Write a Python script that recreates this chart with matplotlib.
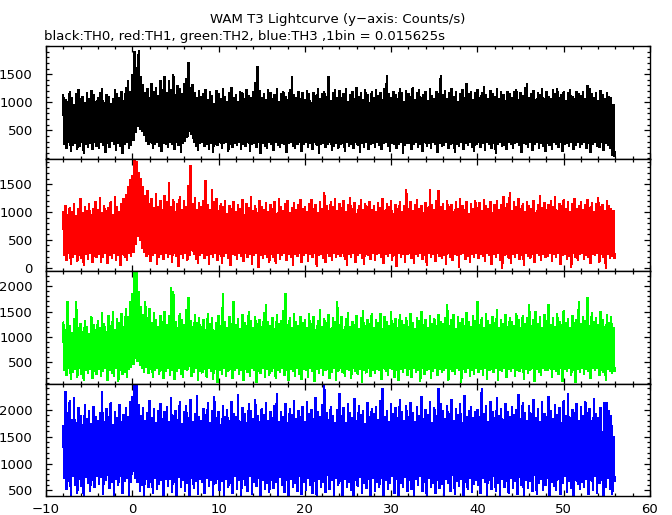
import numpy as np
import matplotlib
matplotlib.use("Agg")
import matplotlib.pyplot as plt
from matplotlib.ticker import MultipleLocator

# ---- data: per 0.25 s sample, upper (hi) and lower (lo) extent of the curve ----
t_start = -8.0
t_step = 0.25

th0_hi = [
    1120, 1040, 1010, 1190, 1080, 960, 1150, 1230, 1070, 1100, 990, 1170, 1060, 1210, 1130, 1020,
    1090, 1180, 1250, 1000, 1140, 1110, 970, 1060, 1220, 1150, 1080, 1190, 1030, 1270, 1380, 1200,
    1490, 1900, 1620, 1930, 1460, 1310, 1180, 1250, 1090, 1340, 1200, 1270, 1120, 1380, 1230, 1450,
    1170, 1390, 1220, 1500, 1130, 1290, 1250, 1160, 1340, 1420, 1700, 1260, 1320, 1180, 1080, 1210,
    1100, 1160, 1230, 1040, 1190, 1120, 980, 1210, 1150, 1070, 1240, 1110, 1020, 1180, 1260, 1090,
    1140, 1010, 1200, 1170, 1060, 1230, 1120, 1090, 1190, 1350, 1630, 1210, 1080, 1150, 1040, 1220,
    1180, 1070, 1130, 1250, 1010, 1160, 1200, 1110, 1040, 1230, 1450, 1140, 1090, 1190, 1060, 1170,
    1050, 1210, 1150, 990, 1180, 1120, 1240, 1070, 1160, 1200, 1100, 1450, 1030, 1170, 1230, 1090,
    1210, 1080, 1160, 1240, 1020, 1130, 1190, 1060, 1270, 1110, 1180, 1050, 1220, 1140, 1000, 1190,
    1090, 1230, 1120, 1170, 1040, 1250, 1485, 1150, 1080, 1200, 1130, 1060, 1240, 1170, 1010, 1210,
    1160, 1100, 1260, 1050, 1180, 1220, 1090, 1140, 1200, 1030, 1250, 1120, 1070, 1190, 1150, 1485,
    1130, 1210, 1060, 1170, 1240, 1100, 1190, 1020, 1150, 1230, 1080, 1340, 1160, 1200, 1050, 1180,
    1220, 1090, 1170, 1280, 1130, 1060, 1210, 1150, 1100, 1240, 1070, 1190, 1140, 1030, 1200, 1160,
    1080, 1190, 1230, 1050, 1170, 1120, 1260, 1340, 1090, 1150, 1210, 1040, 1180, 1130, 1240, 1070,
    1190, 1110, 1060, 1220, 1160, 1250, 1080, 1140, 1200, 1030, 1170, 1230, 1100, 1060, 1190, 1150,
    1120, 1200, 1070, 1290, 1240, 1150, 1090, 1180, 1030, 1210, 1130, 1060, 1170, 1100, 1080, 960,
]
th0_lo = [
    250, 180, 290, 120, 230, 270, 160, 210, 280, 90, 240, 200, 260, 150, 290, 220,
    170, 280, 230, 110, 260, 190, 300, 240, 140, 270, 210, 80, 250, 290, 180, 230,
    310, 460, 560, 520, 480, 400, 300, 240, 280, 170, 250, 290, 220, 130, 270, 240,
    200, 290, 250, 160, 280, 230, 110, 270, 300, 370, 480, 430, 290, 220, 140, 260,
    290, 210, 240, 150, 270, 100, 250, 230, 290, 180, 260, 280, 120, 240, 200, 270,
    230, 290, 160, 250, 210, 280, 130, 240, 270, 200, 290, 90, 260, 220, 170, 280,
    250, 140, 280, 230, 190, 270, 240, 110, 260, 290, 210, 170, 250, 280, 130, 240,
    280, 200, 260, 160, 290, 230, 80, 250, 270, 190, 240, 290, 140, 220, 260, 180,
    240, 270, 120, 290, 210, 250, 180, 280, 230, 100, 260, 200, 290, 160, 240, 270,
    190, 280, 230, 150, 260, 290, 210, 120, 270, 240, 180, 250, 290, 90, 230, 260,
    270, 160, 250, 290, 200, 240, 130, 280, 220, 260, 170, 290, 240, 110, 270, 210,
    230, 290, 180, 250, 270, 100, 240, 210, 290, 150, 260, 230, 280, 190, 120, 250,
    290, 200, 260, 140, 280, 240, 170, 270, 90, 250, 290, 210, 230, 160, 280, 240,
    180, 260, 290, 230, 110, 270, 250, 200, 290, 140, 240, 280, 170, 260, 220, 130,
    260, 230, 150, 280, 250, 190, 290, 120, 240, 270, 210, 290, 160, 230, 280, 200,
    240, 290, 170, 260, 100, 250, 280, 220, 190, 290, 140, 260, 230, 180, 60, 40,
]

th1_hi = [
    1000, 1120, 950, 1080, 1010, 1150, 930, 1060, 1240, 990, 1100, 1030, 1160, 960, 1070, 1190,
    1050, 1260, 990, 1120, 1030, 1080, 1190, 950, 1270, 1100, 1010, 1150, 1240, 1320, 1450, 1580,
    1650, 1950, 1900, 1700, 1600, 1450, 1300, 1380, 1150, 1250, 1080, 1330, 1100, 1200, 1050, 1300,
    1180, 1520, 1090, 1230, 1000, 1160, 1270, 1050, 1200, 1100, 1480, 1830, 1150, 1260, 1040, 1170,
    1090, 1200, 1560, 1130, 1040, 1400, 1180, 1250, 1020, 1150, 1090, 1210, 980, 1120, 1060, 1190,
    1000, 1140, 1070, 1230, 950, 1160, 1080, 1280, 1030, 1120, 990, 1200, 1090, 1050, 1170, 1010,
    1140, 1060, 1190, 980, 1250, 1100, 1030, 1150, 1210, 990, 1080, 1170, 1040, 1130, 1230, 1070,
    1100, 1010, 1160, 1220, 1070, 1140, 990, 1190, 1060, 1350, 1120, 1030, 1180, 1090, 1240, 1020,
    1150, 1080, 1200, 1010, 1130, 1260, 1060, 1170, 970, 1110, 1220, 1040, 1160, 1090, 1190, 1050,
    1120, 1000, 1170, 1080, 1240, 1030, 1150, 1090, 1200, 980, 1130, 1060, 1180, 1010, 1110, 1400,
    1070, 1190, 1020, 1140, 1230, 1060, 1110, 990, 1170, 1080, 1400, 1130, 1050, 1200, 1380, 1090,
    1160, 1030, 1210, 1090, 1140, 1000, 1180, 1070, 1250, 1120, 1040, 1190, 980, 1150, 1060, 1200,
    1080, 1170, 1020, 1230, 1110, 1060, 1190, 990, 1140, 1210, 1050, 1130, 1270, 1080, 1160, 1350,
    1030, 1190, 1100, 1240, 1070, 1150, 1010, 1180, 1120, 1060, 1210, 990, 1130, 1290, 1080, 1170,
    1050, 1140, 1200, 1090, 1280, 1020, 1160, 1110, 1230, 1070, 1180, 1000, 1150, 1250, 1060, 1120,
    1190, 1040, 1130, 1220, 1080, 1170, 1010, 1150, 1260, 1090, 1140, 1030, 1200, 1110, 1070, 1020,
]
th1_lo = [
    210, 130, 250, 60, 190, 240, 110, 220, 170, 40, 230, 150, 260, 90, 200, 180,
    240, 100, 190, 250, 70, 220, 160, 260, 130, 210, 30, 240, 180, 120, 250, 200,
    280, 420, 560, 480, 340, 270, 200, 240, 110, 220, 250, 60, 190, 230, 140, 260,
    180, 240, 90, 250, 200, 20, 230, 170, 260, 120, 210, 300, 240, 150, 80, 220,
    250, 160, 220, 50, 240, 190, 260, 130, 230, 80, 200, 250, 170, 30, 240, 210,
    140, 250, 200, 110, 260, 180, 230, 60, 210, 250, 10, 220, 160, 240, 190, 90,
    230, 190, 70, 250, 150, 220, 260, 120, 240, 180, 40, 230, 200, 250, 100, 210,
    260, 110, 230, 190, 250, 20, 210, 240, 160, 90, 250, 200, 130, 260, 180, 230,
    200, 250, 140, 30, 230, 190, 260, 100, 220, 250, 170, 60, 240, 210, 150, 260,
    120, 230, 250, 180, 70, 240, 200, 260, 130, 210, 20, 250, 190, 230, 100, 240,
    250, 170, 80, 230, 200, 260, 140, 220, 40, 250, 190, 230, 110, 260, 200, 160,
    220, 60, 250, 190, 130, 240, 210, 0, 230, 260, 150, 200, 90, 240, 180, 250,
    160, 240, 200, 110, 260, 220, 50, 230, 190, 250, 130, -20, 210, 240, 170, 80,
    240, 190, 250, 140, 220, 30, 260, 200, 160, 230, 90, 250, 210, 120, 240, 190,
    200, 250, 110, 230, 180, 260, 60, 220, 240, 150, 200, 10, 250, 190, 130, 230,
    250, 140, 220, 190, 70, 240, 210, 260, 100, 230, 180, -10, 240, 160, 200, 180,
]

th2_hi = [
    1280, 1150, 1700, 1230, 1090, 1360, 1690, 1180, 1270, 1110, 1330, 1210, 1060, 1400, 1250, 1140,
    1320, 1190, 1480, 1260, 1100, 1420, 1230, 1510, 1150, 1370, 1280, 1470, 1200, 1550, 1400, 1700,
    1850, 2290, 2290, 1900, 1600, 1450, 1700, 1380, 1560, 1290, 1480, 1350, 1200, 1430, 1310, 1500,
    1250, 1420, 1970, 1900, 1300, 1180, 1460, 1350, 1240, 1530, 1770, 1320, 1210, 1450, 1280, 1390,
    1200, 1340, 1150, 1470, 1260, 1380, 1130, 1290, 1420, 1230, 1850, 1310, 1180, 1400, 1260, 1700,
    1240, 1360, 1170, 1450, 1290, 1220, 1500, 1330, 1190, 1410, 1270, 1340, 1210, 1480, 1640, 1300,
    1230, 1380, 1160, 1440, 1270, 1330, 1520, 1850, 1250, 1390, 1180, 1460, 1300, 1220, 1410, 1280,
    1350, 1190, 1470, 1260, 1400, 1140, 1320, 1530, 1210, 1370, 1280, 1440, 1170, 1390, 1300, 1700,
    1240, 1410, 1150, 1360, 1480, 1200, 1310, 1250, 1430, 1170, 1380, 1520, 1220, 1340, 1270, 1460,
    1190, 1350, 1280, 1470, 1160, 1400, 1300, 1230, 1510, 1260, 1370, 1180, 1440, 1320, 1250, 1390,
    1210, 1460, 1290, 1170, 1380, 1330, 1500, 1240, 1350, 1190, 1420, 1270, 1360, 1230, 1450, 1300,
    1260, 1380, 1640, 1220, 1340, 1450, 1170, 1400, 1290, 1360, 1230, 1480, 1310, 1200, 1420, 1330,
    1700, 1250, 1390, 1180, 1460, 1320, 1240, 1410, 1280, 1530, 1190, 1350, 1270, 1440, 1210, 1380,
    1300, 1230, 1470, 1350, 1180, 1420, 1260, 1390, 1640, 1220, 1340, 1500, 1270, 1400, 1190, 1450,
    1330, 1640, 1250, 1380, 1200, 1460, 1310, 1240, 1520, 1290, 1370, 1180, 1430, 1280, 1350, 1700,
    1260, 1410, 1330, 1770, 1220, 1480, 1300, 1380, 1250, 1500, 1350, 1200, 1440, 1290, 1400, 1180,
]
th2_lo = [
    330, 240, 380, 170, 300, 350, 210, 370, 260, 140, 340, 290, 360, 190, 320, 270,
    360, 220, 310, 380, 150, 340, 280, 230, 370, 120, 330, 260, 300, 200, 350, 390,
    460, 580, 520, 440, 370, 300, 400, 280, 350, 210, 330, 380, 260, 340, 180, 310,
    370, 250, 340, 160, 310, 380, 270, 200, 360, 330, 420, 230, 300, 370, 140, 320,
    290, 360, 210, 380, 320, 170, 350, 100, 330, 270, 380, 230, 310, 360, 190, 340,
    380, 260, 330, 150, 360, 300, 220, 370, 340, 110, 310, 280, 370, 200, 350, 240,
    320, 370, 180, 340, 290, 380, 250, 330, 140, 360, 310, 230, 380, 270, 170, 350,
    340, 200, 370, 310, 120, 350, 280, 380, 240, 330, 360, 190, 300, 370, 150, 320,
    370, 290, 230, 360, 330, 180, 380, 310, 260, 350, 100, 340, 290, 370, 220, 330,
    280, 360, 330, 160, 370, 310, 240, 380, 350, 200, 330, 140, 360, 300, 380, 250,
    350, 210, 370, 300, 340, 130, 380, 270, 330, 360, 180, 310, 370, 240, 350, 290,
    330, 380, 150, 350, 310, 260, 370, 340, 110, 360, 300, 380, 220, 340, 270, 370,
    300, 350, 240, 380, 170, 330, 360, 290, 370, 140, 340, 310, 380, 200, 350, 320,
    370, 230, 340, 310, 380, 160, 350, 280, 330, 370, 120, 360, 300, 250, 380, 330,
    340, 380, 200, 360, 320, 270, 370, 130, 350, 310, 380, 240, 330, 100, 360, 300,
    380, 260, 350, 310, 190, 370, 330, 380, 240, 340, 300, 150, 360, 320, 280, 330,
]

th3_hi = [
    1700, 2340, 1950, 2180, 1820, 2230, 1760, 2050, 1900, 1720, 2100, 1840, 1980, 1750, 2060, 1870,
    1800, 1950, 2340, 1780, 2020, 1880, 2140, 1730, 1960, 1850, 2100, 1790, 1920, 2050, 1870, 2160,
    2250, 2470, 2480, 2100, 1900, 2040, 1800, 1950, 2180, 1850, 2020, 1760, 1990, 2110, 1830, 1960,
    2060, 1780, 2230, 1900, 1990, 1820, 2150, 1740, 1970, 2080, 1860, 2190, 1790, 1940, 2270, 1880,
    1800, 2020, 1910, 2130, 1760, 1990, 2240, 1850, 1960, 1730, 2090, 1880, 2000, 1810, 2150, 1930,
    1870, 2280, 1790, 2050, 1940, 1760, 2110, 1990, 1840, 2200, 1900, 1780, 2030, 1920, 2140, 1810,
    1960, 1850, 2080, 2300, 1790, 1970, 1880, 2120, 1760, 2020, 1910, 2180, 1830, 1990, 1870, 2060,
    1790, 2150, 1930, 2010, 1840, 2230, 1960, 1880, 2100, 2460, 1950, 1820, 2070, 1900, 1760, 2000,
    2300, 1890, 2040, 1770, 2120, 1950, 1860, 2220, 1800, 2080, 1920, 1990, 1750, 2140, 1870, 2030,
    1940, 2060, 1820, 2170, 2400, 1880, 1990, 1780, 2110, 1930, 2050, 1850, 2200, 1960, 1800, 2080,
    1870, 2130, 1950, 1790, 2060, 1900, 2240, 1840, 2010, 1920, 2160, 1770, 2050, 1890, 2400, 2120,
    1990, 1830, 2090, 1940, 2200, 1800, 2030, 1910, 2120, 1760, 2260, 1880, 1990, 2070, 1850, 1960,
    2010, 1880, 2400, 1940, 2080, 1790, 2150, 1960, 1850, 2230, 1900, 2030, 1820, 2110, 1970, 1870,
    2060, 1910, 2000, 2290, 1840, 2140, 1950, 1800, 2090, 1930, 2200, 1860, 2020, 1780, 2150, 1940,
    1880, 2240, 1990, 1830, 2100, 1920, 2040, 1770, 2180, 1900, 2300, 1850, 2010, 1950, 2120, 1800,
    2070, 1890, 2160, 1950, 2020, 1800, 2210, 1930, 1860, 2040, 1600, 2140, 2130, 1980, 1900, 1500,
]
th3_lo = [
    720, 520, 660, 390, 760, 600, 450, 700, 580, 380, 740, 630, 480, 690, 560, 750,
    610, 740, 420, 680, 780, 530, 640, 370, 710, 590, 760, 450, 670, 730, 390, 650,
    860, 720, 640, 480, 600, 400, 700, 560, 650, 440, 730, 520, 610, 690, 380, 710,
    580, 700, 460, 650, 380, 740, 550, 690, 470, 620, 370, 720, 530, 660, 430, 700,
    640, 450, 730, 580, 690, 390, 620, 710, 500, 670, 360, 700, 560, 630, 440, 750,
    520, 680, 400, 710, 600, 480, 760, 430, 650, 570, 720, 380, 690, 510, 620, 460,
    690, 540, 640, 390, 740, 590, 460, 680, 370, 710, 560, 630, 480, 760, 420, 650,
    500, 720, 590, 440, 670, 380, 700, 550, 640, 460, 770, 520, 680, 390, 720, 600,
    660, 410, 710, 560, 640, 490, 370, 690, 580, 740, 450, 620, 530, 700, 400, 730,
    470, 650, 560, 720, 380, 680, 510, 620, 760, 440, 700, 370, 630, 550, 740, 480,
    680, 520, 400, 710, 590, 760, 470, 650, 380, 720, 560, 630, 450, 690, 530, 610,
    390, 700, 620, 480, 770, 430, 660, 570, 700, 360, 640, 520, 730, 460, 610, 680,
    590, 440, 720, 640, 400, 690, 520, 760, 470, 630, 380, 700, 560, 670, 450, 730,
    530, 670, 430, 740, 600, 370, 690, 540, 660, 470, 770, 420, 630, 710, 500, 590,
    720, 390, 650, 580, 490, 700, 420, 630, 750, 460, 670, 540, 370, 690, 610, 510,
    640, 560, 710, 420, 680, 500, 760, 450, 620, 690, 380, 560, 720, 520, 430, 680,
]

series = [
    ("TH0", th0_hi, th0_lo, "#000000", (-2, 2002), [500, 1000, 1500]),
    ("TH1", th1_hi, th1_lo, "#ff0000", (-60, 1960), [0, 500, 1000, 1500]),
    ("TH2", th2_hi, th2_lo, "#00ff00", (83, 2298), [500, 1000, 1500, 2000]),
    ("TH3", th3_hi, th3_lo, "#0000ff", (395, 2491), [500, 1000, 1500, 2000]),
]

title = "WAM T3 Lightcurve (y\u2212axis: Counts/s)"
subtitle = "black:TH0, red:TH1, green:TH2, blue:TH3 ,1bin = 0.015625s"

plt.rcParams["font.family"] = ["DejaVu Sans"]
fig = plt.figure(figsize=(6.72, 5.15), dpi=100)
W, H = 672, 515
left, right, top, bottom = 46 / W, 650 / W, 1 - 46 / H, 1 - 496 / H
axes = fig.subplots(4, 1, sharex=True)
fig.subplots_adjust(left=left, right=right, top=top, bottom=bottom, hspace=0)

for ax, (name, hi, lo, col, ylim, yt) in zip(axes, series):
    hi = np.asarray(hi, float)
    lo = np.asarray(lo, float)
    n = len(hi)
    # interleave: peak at each sample time, trough half a step later
    y = np.empty(2 * n)
    y[0::2] = hi
    y[1::2] = lo
    x = t_start + (t_step / 2) * np.arange(2 * n)
    ax.plot(x, y, color=col, linewidth=1.0, antialiased=False, solid_joinstyle="miter")
    ax.set_xlim(-10, 60)
    ax.set_ylim(*ylim)
    ax.set_yticks(yt)
    ax.yaxis.set_minor_locator(MultipleLocator(100))
    ax.xaxis.set_major_locator(MultipleLocator(10))
    ax.xaxis.set_minor_locator(MultipleLocator(2))
    ax.tick_params(which="both", direction="in", top=True, right=True, width=0.9, labelsize=9.5)
    ax.tick_params(which="major", length=4)
    ax.tick_params(which="minor", length=2)
    ax.tick_params(axis="y", pad=9.5)
    ax.tick_params(axis="x", pad=5)
    for s in ax.spines.values():
        s.set_linewidth(1.0)

fig.text(0.502, 1 - 20 / H, title, ha="center", va="center", fontsize=9.5)
fig.text(44 / W, 1 - 36.5 / H, subtitle, ha="left", va="center", fontsize=9.5)

fig.savefig("out.png", dpi=100)
